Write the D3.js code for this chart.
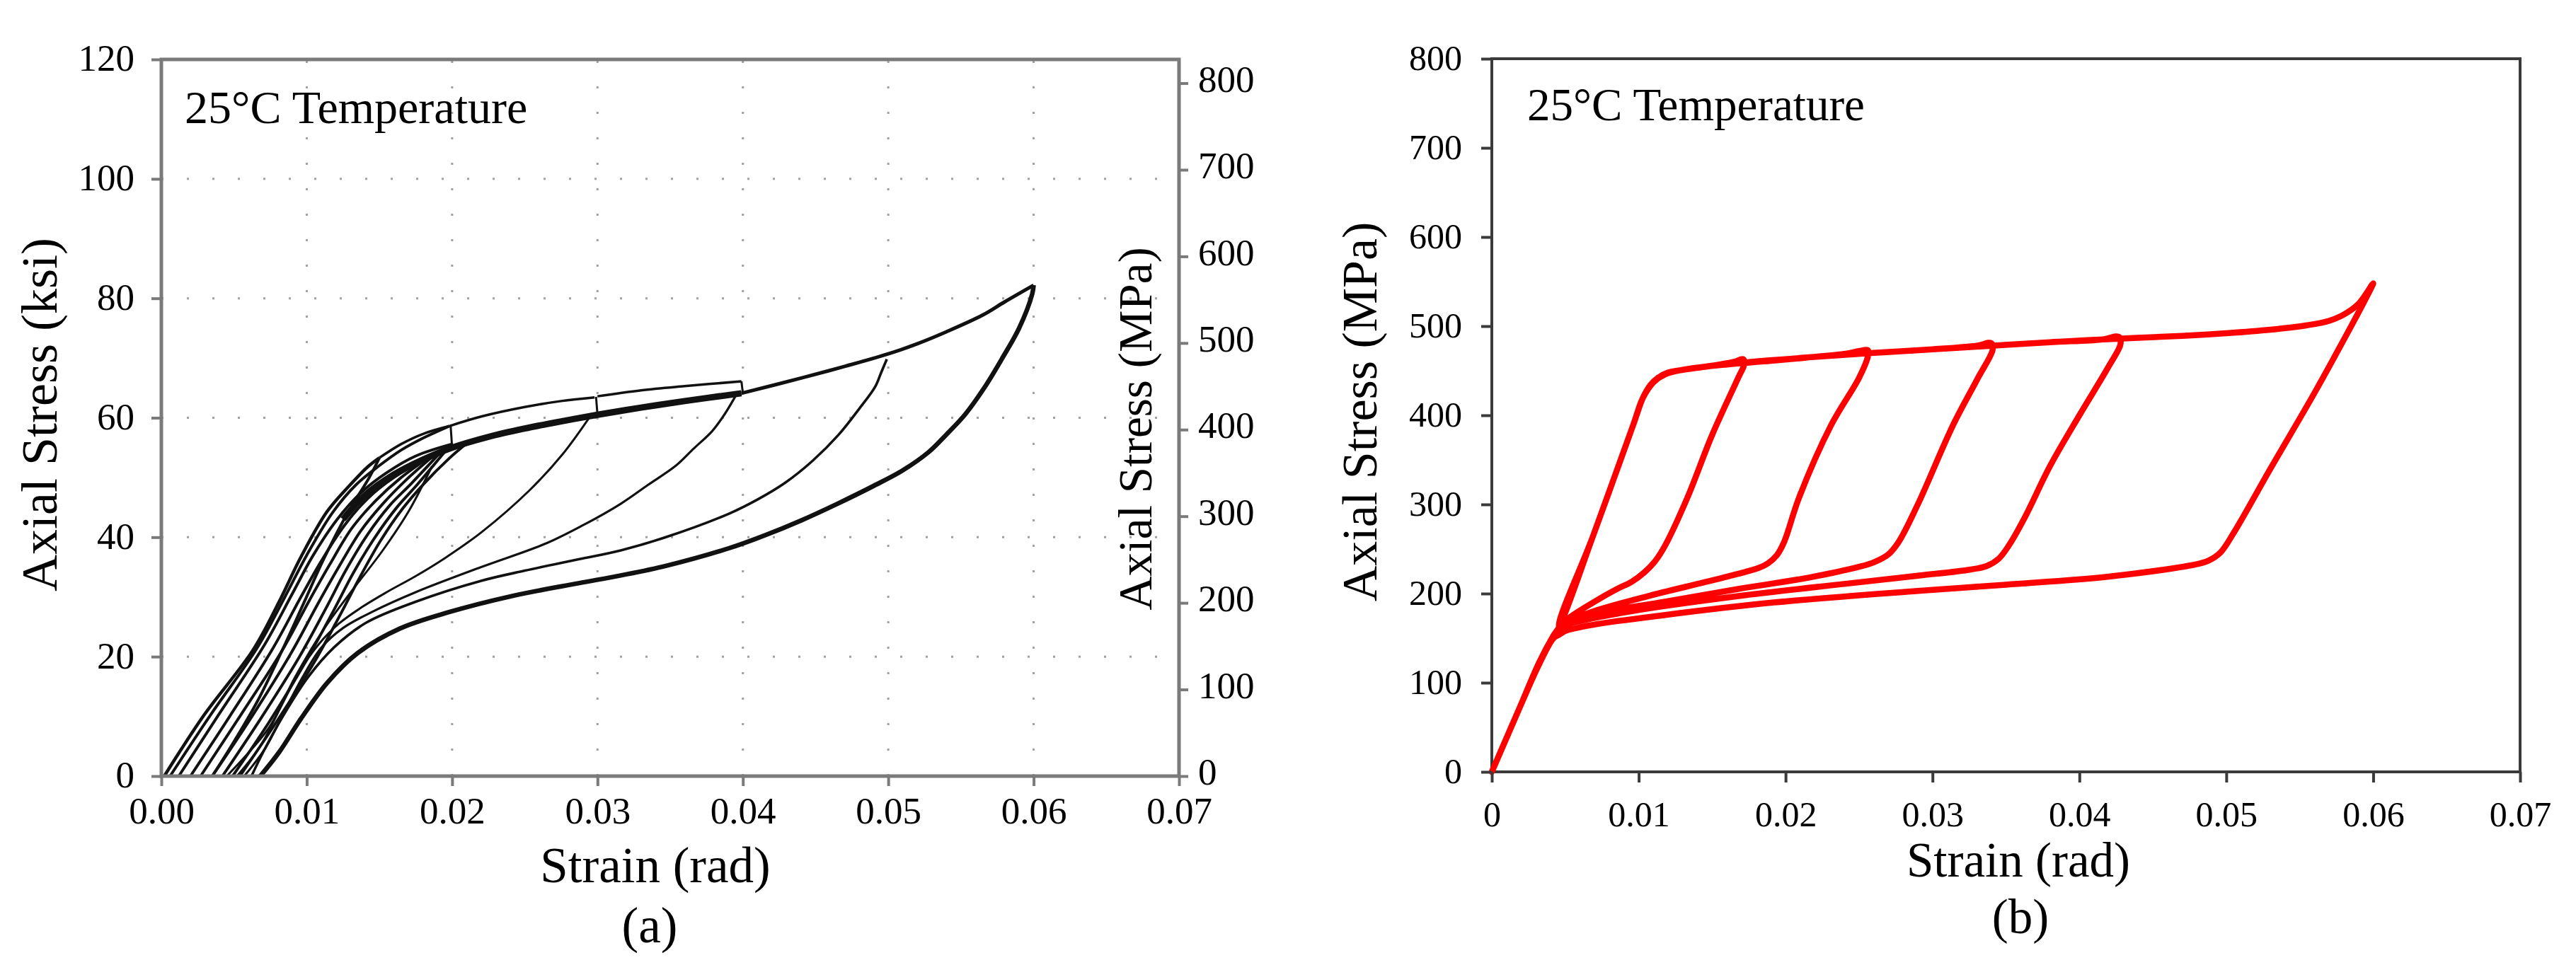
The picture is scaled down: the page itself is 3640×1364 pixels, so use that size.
<!DOCTYPE html>
<html>
<head>
<meta charset="utf-8">
<script src="https://cdn.jsdelivr.net/npm/d3@7"></script>
<style>
  body { margin: 0; background: #fff; }
  text { font-family: "Liberation Serif", "Times New Roman", serif; fill: #000; }
</style>
</head>
<body>
<script>

// ---------- DATA : panel (a), strain (rad) vs axial stress (ksi) ----------
const strainTicks = [0, 0.01, 0.02, 0.03, 0.04, 0.05, 0.06, 0.07];
const strainGrid = [0.01, 0.02, 0.03, 0.04, 0.05, 0.06];
const ksiTicks = [0, 20, 40, 60, 80, 100, 120];
const ksiGrid = [20, 40, 60, 80, 100];
const mpaTicks = [0, 100, 200, 300, 400, 500, 600, 700, 800];

// reloading branches, from residual strain up to where they join the plateau
const loadA = [[0.0002,0],[0.0029,10.1],[0.0063,21.1],[0.0081,29.2],[0.0096,36.7],[0.0114,44.3],[0.013,48.8],[0.0142,51.8],[0.015,53.3]];
const loadB = [[0.0006,0],[0.0034,10.3],[0.0066,21.5],[0.0085,30],[0.01,37],[0.0118,44.2],[0.0134,48.8],[0.015,52],[0.0165,54.6],[0.018,56.6],[0.0198,58.6]];
const loadC = [[0.0012,0],[0.004,10.5],[0.0071,22],[0.009,30.5],[0.0104,36.8],[0.0121,43],[0.0138,47.6],[0.0155,50.8],[0.0175,53.6],[0.02,55.6]];
const loadD = [[0.002,0],[0.0047,10],[0.0077,21.5],[0.0096,30],[0.011,36],[0.0126,42],[0.0142,46.5],[0.016,50],[0.018,52.8],[0.02,55]];
const loadE = [[0.0027,0],[0.0054,10],[0.0083,21],[0.0102,29.5],[0.0116,35.5],[0.0131,41.5],[0.0147,46],[0.0165,50],[0.0185,53.5]];
const loadF = [[0.0035,0],[0.0061,9.5],[0.0089,20.5],[0.0108,29],[0.0122,35],[0.0137,41],[0.0152,45.5],[0.0168,49.5],[0.0188,53.8]];
const loadG = [[0.0042,0],[0.0068,9.5],[0.0095,20],[0.0113,28],[0.0127,34.5],[0.0142,40.5],[0.0157,45.3],[0.0172,49],[0.0192,54.2]];
const loadH = [[0.0049,0],[0.0074,9],[0.01,19.5],[0.0118,27.5],[0.0132,34],[0.0147,40],[0.0162,45],[0.0176,48.8],[0.0196,54.6]];
const loadI = [[0.0054,0],[0.0079,9],[0.0105,19],[0.0123,27],[0.0137,33.5],[0.0151,39.5],[0.0166,44.8],[0.018,48.8],[0.0198,53.2],[0.021,55.7]];

// loading plateau (repeated cycles, drawn heavy) and the later envelope
const plateauThick = [[0.0125,43],[0.014,47],[0.016,50.5],[0.018,53],[0.02,55],[0.0225,56.8],[0.025,58.2],[0.0275,59.4],[0.03,60.5],[0.033,61.7],[0.036,62.8],[0.0399,64.1]];
const plateauLate = [[0.0399,64.1],[0.0441,66.7],[0.047,68.6],[0.05,70.7],[0.052,72.4],[0.054,74.4],[0.0565,77.2],[0.058,79.4],[0.06,82.2]];

// first-cycle (virgin) plateau pieces and the small steps at each previous peak
const virgin1 = [[0.015,53.3],[0.0165,55.6],[0.018,57.3],[0.0198,58.6]];
const virgin2 = [[0.0198,58.6],[0.022,60.2],[0.025,61.8],[0.0275,62.8],[0.0298,63.4]];
const virgin3 = [[0.03,63.6],[0.033,64.6],[0.036,65.3],[0.0399,66.1]];
const step02 = [[0.02,55],[0.0199,58.6]];
const step03 = [[0.03,60.5],[0.0299,63.5]];
const step04 = [[0.04,64.1],[0.0399,66.1]];

// unloading branches from each peak strain
const unload015 = [[0.015,53.3],[0.0143,50],[0.0128,44],[0.0112,36.5],[0.0098,29],[0.0083,21],[0.0066,12.5],[0.0048,5],[0.0035,0]];
const unload02 = [[0.0186,51.8],[0.017,44.3],[0.0152,37.7],[0.013,30.7],[0.0112,24.7],[0.0092,16.6],[0.0074,8.1],[0.0045,0]];
const unload03 = [[0.0294,59.9],[0.0276,53.9],[0.0253,47.8],[0.022,40.8],[0.0195,36.5],[0.0175,33.5],[0.0155,30.8],[0.0138,28.3],[0.0122,25.5],[0.0108,22],[0.0095,17.5],[0.0083,12],[0.0068,5],[0.0052,0]];
const unload04 = [[0.0396,64.1],[0.0388,60.8],[0.0379,57.8],[0.0366,54.8],[0.0354,52],[0.0335,48.8],[0.0316,45.6],[0.029,42],[0.0265,39],[0.022,35],[0.0175,30.8],[0.0145,27.5],[0.0125,24.8],[0.011,21.5],[0.0097,16.5],[0.0085,11],[0.0071,4.5],[0.0057,0]];
const unload05 = [[0.0499,69.8],[0.0495,67.5],[0.0491,65.2],[0.048,61.5],[0.0466,57.2],[0.0448,52.8],[0.0429,49.1],[0.041,46.3],[0.0391,44],[0.0347,40],[0.0316,37.8],[0.0287,36.3],[0.025,34.4],[0.022,32.7],[0.0175,29.2],[0.0141,25.7],[0.0119,21.6],[0.0101,16.6],[0.0085,10.6],[0.007,4],[0.0062,0]];
const unload06 = [[0.06,82.2],[0.0599,80.7],[0.059,75],[0.0578,69.8],[0.0566,65],[0.0553,60.6],[0.054,57.2],[0.0528,54.3],[0.051,51.2],[0.049,48.6],[0.0465,45.6],[0.044,42.8],[0.0415,40.3],[0.0391,38.2],[0.0347,35.2],[0.0316,33.6],[0.0287,32.3],[0.0242,30.2],[0.0197,27.4],[0.0164,24.7],[0.0135,20.6],[0.0114,15.6],[0.0096,9.6],[0.0081,4],[0.0068,0]];

// ---------- DATA : panel (b), strain (rad) vs axial stress (MPa) ----------
const stressTicksB = [0, 100, 200, 300, 400, 500, 600, 700, 800];

const firstLoad = [[0,0],[0.002,76],[0.0032,122],[0.0042,153]];
const cycle1 = [[0.0046,163],[0.0069,265],[0.0096,388],[0.0103,420],[0.0108,434],[0.0113,442],[0.012,448],[0.013,451],[0.0143,454],[0.0155,457],[0.0165,460],[0.0171,463],[0.0172,458],[0.0168,443],[0.015,378],[0.0133,307],[0.0118,254],[0.0111,236],[0.0104,224],[0.0095,213],[0.0085,205],[0.0069,190],[0.0052,172]];
const cycle2 = [[0.0046,162],[0.0069,265],[0.0096,388],[0.0103,420],[0.011,437],[0.0118,446],[0.013,451],[0.016,457],[0.019,461],[0.0216,465],[0.0241,469],[0.025,472],[0.0256,473],[0.0256,466],[0.025,442],[0.0231,389],[0.0209,307],[0.0199,258],[0.0194,243],[0.0188,234],[0.0182,229],[0.016,219],[0.0143,212],[0.0106,197],[0.0069,180],[0.0052,169]];
const cycle3 = [[0.0046,162],[0.0069,265],[0.0096,388],[0.0103,420],[0.011,437],[0.0118,446],[0.013,451],[0.017,459],[0.0216,465],[0.026,470],[0.03,474],[0.033,478],[0.034,481],[0.0341,474],[0.0331,442],[0.0314,389],[0.029,300],[0.0277,258],[0.027,244],[0.026,235],[0.025,230],[0.0216,218],[0.0167,205],[0.0118,191],[0.0069,177],[0.0052,168]];
const cycle4 = [[0.0046,162],[0.0069,265],[0.0096,388],[0.0103,420],[0.011,437],[0.0118,446],[0.013,451],[0.017,459],[0.0216,465],[0.026,470],[0.03,474],[0.034,478],[0.038,482],[0.0415,485],[0.0427,488],[0.0428,480],[0.042,455],[0.04,400],[0.038,343],[0.0363,286],[0.0352,254],[0.0345,239],[0.0337,231],[0.0326,227],[0.029,220],[0.0241,211],[0.0167,197],[0.0094,180],[0.0052,166]];
const cycle5 = [[0.0046,162],[0.0069,265],[0.0096,388],[0.0103,420],[0.011,437],[0.0118,446],[0.013,451],[0.017,459],[0.0216,465],[0.026,470],[0.03,474],[0.034,478],[0.038,482],[0.0427,486],[0.047,489],[0.05,492],[0.053,496],[0.0555,501],[0.057,506],[0.058,513],[0.059,525],[0.06,548],[0.0594,528],[0.0585,500],[0.056,425],[0.053,340],[0.0505,268],[0.0496,246],[0.0488,237],[0.048,233],[0.042,219],[0.035,210],[0.029,203],[0.0192,190],[0.0118,176],[0.0069,165],[0.005,158]];
const finalUnload = [[0.0046,154],[0.0042,150],[0.0032,120],[0.002,76],[0,0]];


const svg = d3.select('body')
    .append('svg')
    .attr('width', 3640)
    .attr('height', 1364);

const fmt2 = d3.format('.2f');

// =================== PANEL (a) ===================
const xA = d3.scaleLinear().domain([0, 0.07]).range([228, 1666]);
const yA = d3.scaleLinear().domain([0, 120]).range([1097, 84]);
// 1 ksi = 6.895 MPa, same pixel range
const yMPa = d3.scaleLinear().domain([0, 120 * 6.895]).range([1097, 84]);

// dotted grid
const gridA = svg.append('g')
    .attr('stroke', '#a0a0a0')
    .attr('stroke-width', 3)
    .attr('stroke-dasharray', '3 33');

gridA.selectAll('.gx').data(strainGrid).join('line')
    .attr('x1', d => xA(d)).attr('x2', d => xA(d))
    .attr('y1', yA(0)).attr('y2', yA(120));

gridA.selectAll('.gy').data(ksiGrid).join('line')
    .attr('x1', xA(0)).attr('x2', xA(0.07))
    .attr('y1', d => yA(d)).attr('y2', d => yA(d));

// curves
const lineA = d3.line()
    .x(d => xA(d[0]))
    .y(d => yA(d[1]))
    .curve(d3.curveCatmullRom.alpha(0.5));

const curvesA = [
    {pts: loadA, w: 4.5}, {pts: loadB, w: 4}, {pts: loadC, w: 4}, {pts: loadD, w: 4},
    {pts: loadE, w: 4}, {pts: loadF, w: 4}, {pts: loadG, w: 4}, {pts: loadH, w: 4},
    {pts: loadI, w: 4},
    {pts: plateauThick, w: 9}, {pts: plateauLate, w: 5},
    {pts: virgin1, w: 3.5}, {pts: virgin2, w: 3.5}, {pts: virgin3, w: 3.5},
    {pts: step02, w: 3}, {pts: step03, w: 3}, {pts: step04, w: 3},
    {pts: unload015, w: 4}, {pts: unload02, w: 3}, {pts: unload03, w: 3},
    {pts: unload04, w: 3.2}, {pts: unload05, w: 3.6}, {pts: unload06, w: 6.5}
];

svg.append('g')
    .selectAll('path')
    .data(curvesA)
    .join('path')
    .attr('d', d => lineA(d.pts))
    .attr('fill', 'none')
    .attr('stroke', '#111')
    .attr('stroke-width', d => d.w)
    .attr('stroke-linejoin', 'round');

// frame
svg.append('rect')
    .attr('x', xA(0)).attr('y', yA(120))
    .attr('width', xA(0.07) - xA(0)).attr('height', yA(0) - yA(120))
    .attr('fill', 'none')
    .attr('stroke', '#7a7a7a')
    .attr('stroke-width', 5);

// axes
const xAxisA = svg.append('g')
    .attr('transform', `translate(0, ${yA(0)})`)
    .call(d3.axisBottom(xA).tickValues(strainTicks).tickFormat(fmt2).tickSize(14).tickSizeOuter(0));

const yAxisA = svg.append('g')
    .attr('transform', `translate(${xA(0)}, 0)`)
    .call(d3.axisLeft(yA).tickValues(ksiTicks).tickFormat(d3.format('d')).tickSize(14).tickPadding(24).tickSizeOuter(0));

const yAxisMPa = svg.append('g')
    .attr('transform', `translate(${xA(0.07)}, 0)`)
    .call(d3.axisRight(yMPa).tickValues(mpaTicks).tickFormat(d3.format('d')).tickSize(13).tickPadding(14).tickSizeOuter(0));

[xAxisA, yAxisA, yAxisMPa].forEach(g => {
    g.select('.domain').remove();
    g.selectAll('.tick line').attr('stroke', '#7a7a7a').attr('stroke-width', 4);
    g.selectAll('.tick text').attr('font-size', 53).attr('font-family', '"Liberation Serif", serif').attr('fill', '#000');
});
xAxisA.selectAll('.tick text').attr('y', 67).attr('dy', null);
yAxisA.selectAll('.tick text').attr('dy', '0.3em');
yAxisMPa.selectAll('.tick text').attr('dy', '0.22em');

// titles
svg.append('text')
    .attr('x', 261).attr('y', 174)
    .attr('font-size', 66)
    .text('25°C Temperature');

svg.append('text')
    .attr('transform', 'translate(80, 586) rotate(-90)')
    .attr('text-anchor', 'middle')
    .attr('font-size', 72)
    .text('Axial Stress (ksi)');

svg.append('text')
    .attr('transform', 'translate(1627, 606) rotate(-90)')
    .attr('text-anchor', 'middle')
    .attr('font-size', 67)
    .text('Axial Stress (MPa)');

svg.append('text')
    .attr('x', 926).attr('y', 1247)
    .attr('text-anchor', 'middle')
    .attr('font-size', 71)
    .text('Strain (rad)');

svg.append('text')
    .attr('x', 918).attr('y', 1332)
    .attr('text-anchor', 'middle')
    .attr('font-size', 71)
    .text('(a)');

// =================== PANEL (b) ===================
const xB = d3.scaleLinear().domain([0, 0.07]).range([2108, 3561]);
const yB = d3.scaleLinear().domain([0, 800]).range([1091, 83]);

// frame
svg.append('rect')
    .attr('x', xB(0)).attr('y', yB(800))
    .attr('width', xB(0.07) - xB(0)).attr('height', yB(0) - yB(800))
    .attr('fill', 'none')
    .attr('stroke', '#3a3a3a')
    .attr('stroke-width', 4);

const lineB = d3.line()
    .x(d => xB(d[0]))
    .y(d => yB(d[1]))
    .curve(d3.curveCatmullRom.alpha(0.5));

const pathB = [].concat(firstLoad, cycle1, cycle2, cycle3, cycle4, cycle5, finalUnload);

svg.append('path')
    .attr('d', lineB(pathB))
    .attr('fill', 'none')
    .attr('stroke', '#ff0000')
    .attr('stroke-width', 8.5)
    .attr('stroke-linejoin', 'round')
    .attr('stroke-linecap', 'round');

const xAxisB = svg.append('g')
    .attr('transform', `translate(0, ${yB(0)})`)
    .call(d3.axisBottom(xB).tickValues(strainTicks).tickFormat(d => d === 0 ? '0' : fmt2(d)).tickSize(15).tickSizeOuter(0));

const yAxisB = svg.append('g')
    .attr('transform', `translate(${xB(0)}, 0)`)
    .call(d3.axisLeft(yB).tickValues(stressTicksB).tickFormat(d3.format('d')).tickSize(15).tickPadding(27).tickSizeOuter(0));

[xAxisB, yAxisB].forEach(g => {
    g.select('.domain').remove();
    g.selectAll('.tick line').attr('stroke', '#3a3a3a').attr('stroke-width', 4);
    g.selectAll('.tick text').attr('font-size', 50).attr('font-family', '"Liberation Serif", serif').attr('fill', '#111');
});
xAxisB.selectAll('.tick text').attr('y', 77).attr('dy', null);
yAxisB.selectAll('.tick text').attr('dy', '0.3em');

svg.append('text')
    .attr('x', 2158).attr('y', 170)
    .attr('font-size', 65)
    .text('25°C Temperature');

svg.append('text')
    .attr('transform', 'translate(1945, 582) rotate(-90)')
    .attr('text-anchor', 'middle')
    .attr('font-size', 70)
    .text('Axial Stress (MPa)');

svg.append('text')
    .attr('x', 2852).attr('y', 1239)
    .attr('text-anchor', 'middle')
    .attr('font-size', 69)
    .text('Strain (rad)');

svg.append('text')
    .attr('x', 2855).attr('y', 1319)
    .attr('text-anchor', 'middle')
    .attr('font-size', 69)
    .text('(b)');

</script>
</body>
</html>
